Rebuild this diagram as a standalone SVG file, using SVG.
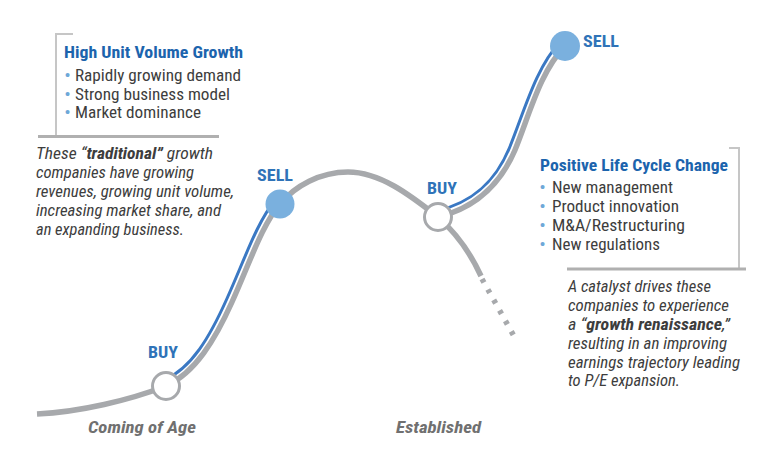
<svg xmlns="http://www.w3.org/2000/svg" width="778" height="469" viewBox="0 0 778 469">
<style>
.cond{font-family:"Roboto Condensed","Liberation Sans Narrow","DejaVu Sans Condensed","Liberation Sans",Arial,sans-serif}
.title{font-size:17px;font-weight:bold;fill:#1c64ad}
.item{font-size:16.5px;fill:#3d3d3d}
.dot{font-weight:bold;fill:#6ea8d8}
.para{font-size:16px;font-style:italic;fill:#3d3d3d}
.para .b{font-weight:bold}
.lbl{font-size:17px;font-weight:bold;fill:#2f73b8}
.stage{font-size:16px;font-weight:bold;font-style:italic;fill:#707070}
.gray{fill:none;stroke:#a7a9ac;stroke-width:5.5;stroke-linecap:butt}
.blue{fill:none;stroke:#3a78c3;stroke-width:3}
.brk{fill:none;stroke:#c6c6c6;stroke-width:2}
.rule{fill:none;stroke:#b0b0b0;stroke-width:3}
.buy{fill:#ffffff;stroke:#a7a9ac;stroke-width:3}
.sell{fill:#7ab0de}
</style>
<g id="connectors">
<path class="gray" d="M37 414 C80 412 130 400 166 386 C195 373 215 340 232 302 C250 262 262 225 280 204 C295 186 320 172 348 172 C380 172 410 195 438 217"/>
<path class="gray" d="M438 217 C455 232 470 252 481 276"/>
<path class="gray" d="M482 279 L515 338" stroke-dasharray="4 8"/>
<path class="gray" d="M438 217 C475 208 500 185 515 150 C530 113 540 72 565 46"/>
<path class="blue" d="M163.5 380.5 C192 368 210 336.5 227 298.5 C245 258.5 257 222 275.4 200"/>
<path class="blue" d="M436.5 211 C473.5 202.5 495.8 180.8 509.5 147.7 C524.5 110.7 535.8 67.8 560 42"/>
</g>
<g id="buy1"><circle class="buy" cx="166" cy="386" r="13.5"/><text class="cond lbl" x="148" y="358" textLength="30" lengthAdjust="spacingAndGlyphs">BUY</text></g>
<g id="sell1"><circle class="sell" cx="280" cy="204" r="14.5"/><text class="cond lbl" x="257" y="181" textLength="36" lengthAdjust="spacingAndGlyphs">SELL</text></g>
<g id="buy2"><circle class="buy" cx="438" cy="217" r="13.5"/><text class="cond lbl" x="427" y="194" textLength="30" lengthAdjust="spacingAndGlyphs">BUY</text></g>
<g id="sell2"><circle class="sell" cx="565" cy="46" r="15"/><text class="cond lbl" x="583" y="47" textLength="36" lengthAdjust="spacingAndGlyphs">SELL</text></g>
<g id="left-box">
<path class="brk" d="M73 34 H56 V136"/>
<path class="rule" d="M38 136.5 H219"/>
<text class="cond title" x="64" y="58" textLength="179" lengthAdjust="spacingAndGlyphs">High Unit Volume Growth</text>
<text class="cond item" x="64.5" y="80.5"><tspan class="dot">•</tspan><tspan x="75" textLength="166" lengthAdjust="spacingAndGlyphs">Rapidly growing demand</tspan></text>
<text class="cond item" x="64.5" y="99.5"><tspan class="dot">•</tspan><tspan x="75" textLength="155" lengthAdjust="spacingAndGlyphs">Strong business model</tspan></text>
<text class="cond item" x="64.5" y="118"><tspan class="dot">•</tspan><tspan x="75" textLength="126" lengthAdjust="spacingAndGlyphs">Market dominance</tspan></text>
</g>
<g id="left-text">
<text class="cond para" x="36" y="159" textLength="177" lengthAdjust="spacingAndGlyphs">These “<tspan class="b">traditional”</tspan> growth</text>
<text class="cond para" x="36" y="178" textLength="158" lengthAdjust="spacingAndGlyphs">companies have growing</text>
<text class="cond para" x="36" y="197" textLength="198" lengthAdjust="spacingAndGlyphs">revenues, growing unit volume,</text>
<text class="cond para" x="36" y="216" textLength="185" lengthAdjust="spacingAndGlyphs">increasing market share, and</text>
<text class="cond para" x="36" y="235" textLength="148" lengthAdjust="spacingAndGlyphs">an expanding business.</text>
</g>
<g id="right-box">
<path class="brk" d="M729 148 H739 V268"/>
<path class="rule" d="M567 269 H746"/>
<text class="cond title" x="540" y="171" textLength="188" lengthAdjust="spacingAndGlyphs">Positive Life Cycle Change</text>
<text class="cond item" x="539.5" y="193"><tspan class="dot">•</tspan><tspan x="552" textLength="121" lengthAdjust="spacingAndGlyphs">New management</tspan></text>
<text class="cond item" x="539.5" y="212"><tspan class="dot">•</tspan><tspan x="552" textLength="127" lengthAdjust="spacingAndGlyphs">Product innovation</tspan></text>
<text class="cond item" x="539.5" y="231"><tspan class="dot">•</tspan><tspan x="552" textLength="133" lengthAdjust="spacingAndGlyphs">M&amp;A/Restructuring</tspan></text>
<text class="cond item" x="539.5" y="249.5"><tspan class="dot">•</tspan><tspan x="552" textLength="108" lengthAdjust="spacingAndGlyphs">New regulations</tspan></text>
</g>
<g id="right-text">
<text class="cond para" x="568" y="291.5" textLength="143" lengthAdjust="spacingAndGlyphs">A catalyst drives these</text>
<text class="cond para" x="568" y="310.5" textLength="161" lengthAdjust="spacingAndGlyphs">companies to experience</text>
<text class="cond para" x="568" y="329.5" textLength="162" lengthAdjust="spacingAndGlyphs">a “<tspan class="b">growth renaissance</tspan>,”</text>
<text class="cond para" x="568" y="348.5" textLength="159" lengthAdjust="spacingAndGlyphs">resulting in an improving</text>
<text class="cond para" x="568" y="367.5" textLength="172" lengthAdjust="spacingAndGlyphs">earnings trajectory leading</text>
<text class="cond para" x="568" y="386" textLength="112" lengthAdjust="spacingAndGlyphs">to P/E expansion.</text>
</g>
<g id="stage-coming"><text class="cond stage" x="88" y="433" textLength="108" lengthAdjust="spacingAndGlyphs">Coming of Age</text></g>
<g id="stage-established"><text class="cond stage" x="396" y="433" textLength="85" lengthAdjust="spacingAndGlyphs">Established</text></g>
</svg>
